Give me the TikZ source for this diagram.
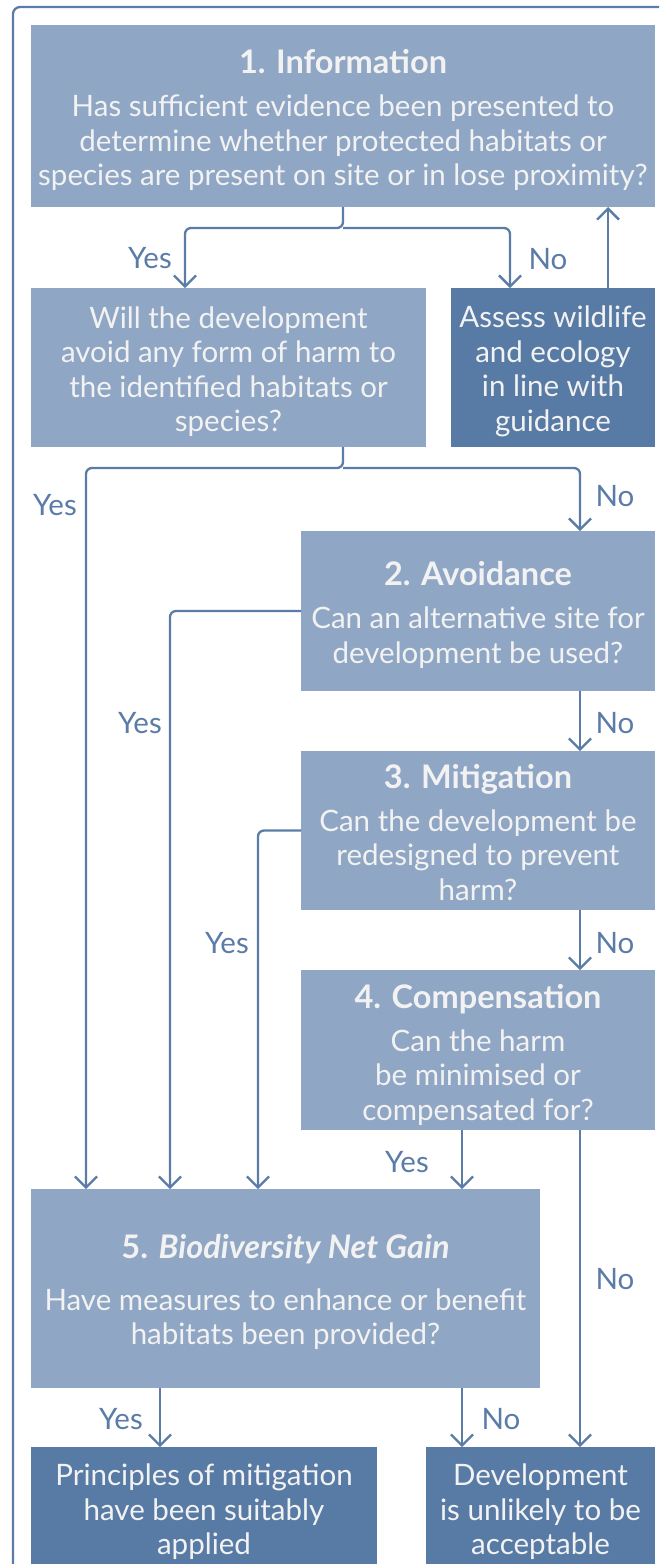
\documentclass[tikz,border=0pt]{standalone}
\usepackage{fontspec}
\setmainfont{Lato}
\usetikzlibrary{arrows.meta,calc}
\definecolor{boxlight}{HTML}{8FA6C4}
\definecolor{boxdark}{HTML}{587BA6}
\definecolor{lineblue}{HTML}{5A7CA7}
\definecolor{boxtext}{HTML}{F2F2F2}
\newcommand{\ttl}[1]{{\bfseries\fontsize{32.5}{34.5}\selectfont #1}\\[8.5pt]}
\begin{document}
\begin{tikzpicture}[x=1pt,y=-1pt,
  basebox/.style={rectangle,inner sep=0pt,outer sep=0pt},
  qbox/.style={basebox,fill=boxlight},
  endbox/.style={basebox,fill=boxdark},
  boxtxt/.style={inner sep=0pt,text=boxtext,align=center,
    font=\fontsize{29.5}{34.5}\selectfont},
  conn/.style={draw=lineblue,line width=2.3pt,rounded corners=6pt},
  arr/.style={conn,-{Straight Barb[length=11pt,width=22pt,line width=2.3pt]}},
  lbl/.style={text=lineblue,font=\fontsize{29.5}{34}\selectfont,inner sep=0pt}]
\useasboundingbox (0,0) rectangle (659,1564);
\begin{scope}
\clip (0,0) rectangle (659,1564);
% outer frame
\draw[lineblue,line width=2.3pt,rounded corners=7pt] (13,7) rectangle (700,1620);

% boxes
\node[qbox,minimum width=624pt,minimum height=182pt] (b1) at (343,116) {};
\node[qbox,minimum width=395pt,minimum height=159pt] (will) at (228.5,367.5) {};
\node[endbox,minimum width=204pt,minimum height=159pt] (assess) at (553,367.5) {};
\node[qbox,minimum width=354pt,minimum height=160pt] (b2) at (478,611) {};
\node[qbox,minimum width=354pt,minimum height=159pt] (b3) at (478,830.5) {};
\node[qbox,minimum width=354pt,minimum height=160pt] (b4) at (478,1050) {};
\node[qbox,minimum width=509pt,minimum height=199pt] (b5) at (285.5,1288.5) {};
\node[endbox,minimum width=346pt,minimum height=130pt] (bl) at (204,1512) {};
\node[endbox,minimum width=229pt,minimum height=130pt] (br) at (540.5,1512) {};

% box texts
\node[boxtxt] (b1t) at ([yshift=-4pt]b1.center)
  {\ttl{1. Information}Has sufficient evidence been presented to\\determine whether protected habitats or\\species are present on site or in lose proximity?};
\node[boxtxt] (willt) at ([yshift=-4pt]will.center)
  {Will the development\\avoid any form of harm to\\the identified habitats or\\species?};
\node[boxtxt] (assesst) at ([yshift=-4pt]assess.center)
  {Assess wildlife\\and ecology\\in line with\\guidance};
\node[boxtxt] (b2t) at ([yshift=-4pt]b2.center)
  {\ttl{2. Avoidance}Can an alternative site for\\development be used?};
\node[boxtxt] (b3t) at ([yshift=-2pt]b3.center)
  {\ttl{3. Mitigation}Can the development be\\redesigned to prevent\\harm?};
\node[boxtxt] (b4t) at ([yshift=-4.5pt]b4.center)
  {\ttl{4. Compensation}Can the harm\\be minimised or\\compensated for?};
\node[boxtxt] (b5t) at ([yshift=-3.5pt]b5.center)
  {{\bfseries\fontsize{32.5}{34.5}\selectfont 5. \itshape Biodiversity Net Gain}\\[17pt]Have measures to enhance or benefit\\habitats been provided?};
\node[boxtxt] (blt) at (bl.center)
  {Principles of mitigation\\have been suitably\\applied};
\node[boxtxt] (brt) at (br.center)
  {Development\\is unlikely to be\\acceptable};

% junction points
\coordinate (j1) at ($(b1.south)+(0,21)$);
\coordinate (j2) at ($(will.south)+(114.5,21)$);

% connectors
\draw[arr] (b1.south) -- (j1) -| ([xshift=-43.5pt]will.north);
\draw[arr] (j1) -| ([xshift=-43pt]assess.north);
\draw[arr] ([xshift=55pt]assess.north) -- ([xshift=55pt]assess.north |- b1.south);
\draw[arr] ([xshift=114.5pt]will.south) -- (j2) -| ([xshift=-199.5pt]b5.north);
\draw[arr] (j2) -| ([xshift=102pt]b2.north);
\draw[arr] (b2.west) -| ([xshift=-115.5pt]b5.north);
\draw[arr] ([xshift=102pt]b2.south) -- ([xshift=102pt]b3.north);
\draw[arr] (b3.west) -| ([xshift=-27.5pt]b5.north);
\draw[arr] ([xshift=102pt]b3.south) -- ([xshift=102pt]b4.north);
\draw[arr] ([xshift=-16pt]b4.south) -- ([xshift=-16pt]b4.south |- b5.north);
\draw[arr] ([xshift=102pt]b4.south) -- ([xshift=102pt]b4.south |- br.north);
\draw[arr] ([xshift=-125.5pt]b5.south) -- ([xshift=-125.5pt]b5.south |- bl.north);
\draw[arr] ([xshift=176.5pt]b5.south) -- ([xshift=176.5pt]b5.south |- br.north);

% branch labels
\node[lbl] (l1) at (150,258) {Yes};
\node[lbl] (l2) at (548,259) {No};
\node[lbl] (l3) at (55,505) {Yes};
\node[lbl] (l4) at (615,496) {No};
\node[lbl] (l5) at (140,723) {Yes};
\node[lbl] (l6) at (615,723) {No};
\node[lbl] (l7) at (227,943) {Yes};
\node[lbl] (l8) at (615,943) {No};
\node[lbl] (l9) at (407,1162) {Yes};
\node[lbl] (l10) at (615,1279) {No};
\node[lbl] (l11) at (121,1419) {Yes};
\node[lbl] (l12) at (501,1419) {No};
\end{scope}
\end{tikzpicture}
\end{document}
